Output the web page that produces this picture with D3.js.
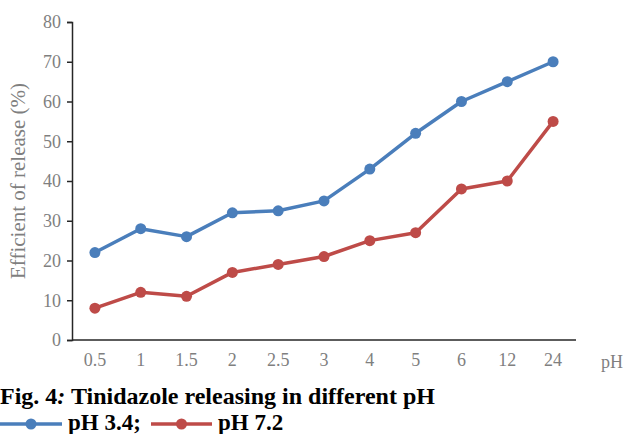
<!DOCTYPE html>
<html>
<head>
<meta charset="utf-8">
<script src="https://cdn.jsdelivr.net/npm/d3@7"></script>
<style>
  body { margin: 0; background: #fff; }
  svg text { font-family: "Liberation Serif", "Times New Roman", serif; }
</style>
</head>
<body>
<div></div>
<script>
var width = 626;
var height = 434;

// data
var phLabels = ["0.5", "1", "1.5", "2", "2.5", "3", "4", "5", "6", "12", "24"];
var ph34 = [22, 28, 26, 32, 32.5, 35, 43, 52, 60, 65, 70];
var ph72 = [8, 12, 11, 17, 19, 21, 25, 27, 38, 40, 55];
var yTicks = [0, 10, 20, 30, 40, 50, 60, 70, 80];
var seriesNames = ["pH 3.4;", "pH 7.2"];
var colors = ["#4a7ebb", "#be4b48"];

var svg = d3.select("div")
  .append("svg")
  .attr("width", width)
  .attr("height", height);

var x = d3.scaleBand().domain(phLabels).range([72, 576]);
var y = d3.scaleLinear().domain([0, 80]).range([340, 22]);

// y axis
var axisY = d3.axisLeft(y).tickValues(yTicks).tickSize(5).tickPadding(6);
var gy = svg.append("g").attr("transform", "translate(72,0)").call(axisY);
gy.select(".domain").attr("stroke", "#262626").attr("stroke-width", 1.5);
gy.selectAll(".tick line").attr("stroke", "#262626").attr("stroke-width", 1.5);
gy.selectAll(".tick text")
  .attr("fill", "#7f7f7f")
  .style("font-size", "18px");

// x axis
var axisX = d3.axisBottom(x).tickSize(0).tickPadding(13);
var gx = svg.append("g").attr("transform", "translate(0,340)").call(axisX);
gx.select(".domain").attr("d", "M72,0H576").attr("stroke", "#262626").attr("stroke-width", 1.5);
gx.selectAll(".tick text")
  .attr("fill", "#7f7f7f")
  .style("font-size", "18px");

svg.append("text")
  .attr("x", 612)
  .attr("y", 368)
  .attr("text-anchor", "middle")
  .attr("fill", "#7f7f7f")
  .style("font-size", "18px")
  .text("pH");

svg.append("text")
  .attr("transform", "translate(25,181) rotate(-90)")
  .attr("text-anchor", "middle")
  .attr("fill", "#7f7f7f")
  .style("font-size", "21px")
  .text("Efficient of release (%)");

// lines and markers
var line = d3.line()
  .x(function (d, i) { return x(phLabels[i]) + x.bandwidth() / 2; })
  .y(function (d) { return y(d); });

[ph34, ph72].forEach(function (series, k) {
  svg.append("path")
    .datum(series)
    .attr("d", line)
    .attr("fill", "none")
    .attr("stroke", colors[k])
    .attr("stroke-width", 3.5)
    .attr("stroke-linejoin", "round");

  svg.selectAll(".dot" + k)
    .data(series)
    .enter()
    .append("circle")
    .attr("cx", function (d, i) { return x(phLabels[i]) + x.bandwidth() / 2; })
    .attr("cy", function (d) { return y(d); })
    .attr("r", 5.5)
    .attr("fill", colors[k]);
});

// caption
var cap = svg.append("text")
  .attr("x", 0)
  .attr("y", 404)
  .style("font-size", "24px")
  .style("font-weight", "bold")
  .attr("fill", "#000");
cap.append("tspan").text("Fig. 4");
cap.append("tspan").style("font-style", "italic").text(":");
cap.append("tspan").text(" Tinidazole releasing in different pH");

// legend
var legendX = [[0, 62, 68], [151, 212, 218]];
seriesNames.forEach(function (name, k) {
  var lx = legendX[k];
  svg.append("line")
    .attr("x1", lx[0]).attr("x2", lx[1])
    .attr("y1", 424).attr("y2", 424)
    .attr("stroke", colors[k])
    .attr("stroke-width", 3.5);
  svg.append("circle")
    .attr("cx", (lx[0] + lx[1]) / 2)
    .attr("cy", 424)
    .attr("r", 5.5)
    .attr("fill", colors[k]);
  svg.append("text")
    .attr("x", lx[2])
    .attr("y", 430)
    .style("font-size", "23px")
    .style("font-weight", "bold")
    .attr("fill", "#000")
    .text(name);
});
</script>
</body>
</html>
